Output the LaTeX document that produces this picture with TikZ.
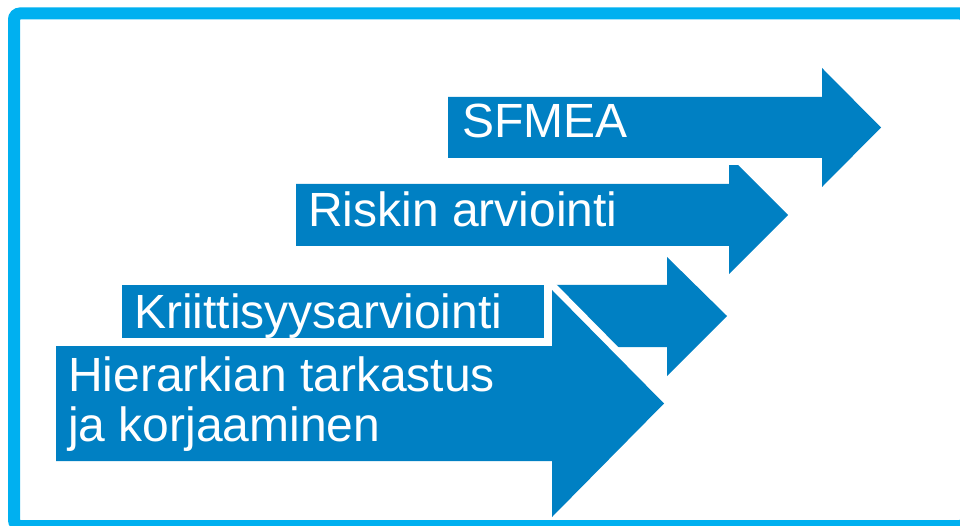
\documentclass[tikz,border=0pt]{standalone}
\usepackage{fontspec}
\setmainfont{Liberation Sans}
\definecolor{arrowblue}{HTML}{0080C3}
\definecolor{frameblue}{HTML}{00B0F0}
\tikzset{
  blockarrow/.style={fill=arrowblue, preaction={draw=white, line width=14pt}},
  label/.style={anchor=base west, inner sep=0pt, text=white, font=\fontsize{48}{50}\selectfont, align=left},
  frame/.style={draw=frameblue, line width=12pt, rounded corners=6pt}
}
\begin{document}
\begin{tikzpicture}[x=1pt, y=-1pt]
\useasboundingbox (0,0) rectangle (960,526);
\clip (0,0) rectangle (960,526);
% Kriittisyysarviointi arrow
\path[blockarrow] (122,285) -- (667,285) -- (667,257) -- (727,316) -- (667,376) -- (667,347) -- (122,347) -- cycle;
% Hierarkian arrow
\path[blockarrow] (56,346) -- (552,346) -- (552,290) -- (664,403.5) -- (552,517) -- (552,461) -- (56,461) -- cycle;
% Kriittisyysarviointi text box
\path[blockarrow] (122,285) rectangle (544,338);
% Riskin arviointi arrow
\path[blockarrow] (296,184) -- (729,184) -- (729,156) -- (788,215) -- (729,274) -- (729,246) -- (296,246) -- cycle;
% SFMEA arrow
\path[blockarrow] (448,97) -- (822,97) -- (822,68) -- (881,127.5) -- (822,187) -- (822,158) -- (448,158) -- cycle;
% labels
\node[label] (sfmea) at (462,138) {SFMEA};
\node[label] (riski) at (308,227) {Riskin arviointi};
\node[label] (kriit) at (134,328) {Kriittisyysarviointi};
\node[label] (hier1) at (68,391) {Hierarkian tarkastus};
\node[label] (hier2) at (68,441) {ja korjaaminen};
% frame
\draw[frame] (14,526) -- (14,13.5) -- (966,13.5) -- (966,526) -- cycle;
\end{tikzpicture}
\end{document}
